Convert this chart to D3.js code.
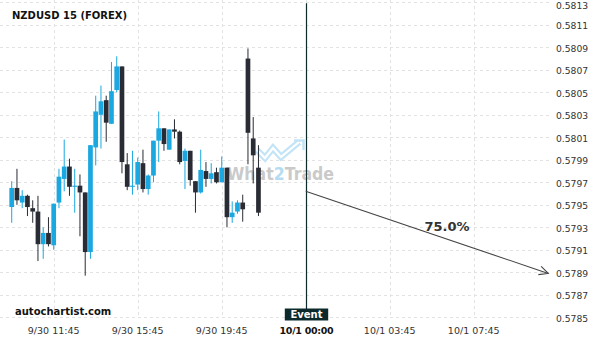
<!DOCTYPE html>
<html>
<head>
<script src="https://d3js.org/d3.v7.min.js" charset="utf-8"></script>
<style>
    body{margin:0;background:#fff;font-family:"DejaVu Sans",sans-serif;}
</style>
</head>
<body>
<div id="chart"></div>
<script>
// 15 minute candles, 9/30 09:45 onward
var opens  = [0.57948,0.57965,0.57952,0.57958,0.57947,0.57944,0.57915,0.57925,0.57914,0.57952,
              0.57973,0.57984,0.57966,0.57967,0.57961,0.57908,0.58001,0.58030,0.58043,0.58022,
              0.58052,0.58073,0.57986,0.57966,0.57968,0.57987,0.57964,0.57976,0.58007,0.58018,
              0.57999,0.58017,0.58015,0.57989,0.57998,0.57971,0.57961,0.57980,0.57973,0.57979,
              0.57970,0.57983,0.57939,0.57944,0.57952,0.58080,0.58009,0.57983]
var highs  = [0.57971,0.57982,0.57963,0.57959,0.57954,0.57958,0.57930,0.57939,0.57951,0.57982,
              0.58008,0.57991,0.57982,0.57977,0.57961,0.58003,0.58047,0.58056,0.58047,0.58077,
              0.58082,0.58073,0.57996,0.57998,0.57992,0.57999,0.57977,0.58007,0.58033,0.58018,
              0.58017,0.58026,0.58016,0.58000,0.57998,0.57971,0.57999,0.57988,0.57987,0.57983,
              0.57993,0.57983,0.57953,0.57954,0.57959,0.58089,0.58028,0.58003]
var lows   = [0.57934,0.57950,0.57947,0.57940,0.57934,0.57900,0.57902,0.57913,0.57910,0.57947,
              0.57962,0.57958,0.57943,0.57922,0.57887,0.57902,0.57985,0.58000,0.58006,0.58022,
              0.58050,0.57978,0.57963,0.57959,0.57963,0.57961,0.57959,0.57970,0.57988,0.57998,
              0.57999,0.58009,0.57986,0.57964,0.57967,0.57943,0.57960,0.57966,0.57969,0.57969,
              0.57970,0.57930,0.57934,0.57942,0.57935,0.57986,0.57969,0.57940]
var closes = [0.57965,0.57954,0.57958,0.57948,0.57944,0.57915,0.57925,0.57915,0.57951,0.57975,
              0.57984,0.57966,0.57967,0.57961,0.57908,0.58003,0.58033,0.58042,0.58023,0.58051,
              0.58073,0.57988,0.57966,0.57967,0.57988,0.57964,0.57976,0.58007,0.58018,0.58004,
              0.58017,0.58015,0.57988,0.57998,0.57972,0.57961,0.57981,0.57973,0.57978,0.57970,
              0.57983,0.57939,0.57943,0.57952,0.57946,0.58014,0.57994,0.57943]

var yTicks = [0.5785,0.5787,0.5789,0.5791,0.5793,0.5795,0.5797,0.5799,0.5801,0.5803,0.5805,0.5807,0.5809,0.5811,0.5813]
var xTickBars = [8,24,40,72,88]
var xTickLabels = ["9/30 11:45","9/30 15:45","9/30 19:45","10/1 03:45","10/1 07:45"]

var eventBar = 56
var eventLabel = "10/1 00:00"
var forecastFrom = 0.57962
var forecastTo = 0.57889
var forecastEndBar = 102.2
var forecastProb = "75.0%"

var up = "#1ba7e0", down = "#2a2c35", gridColor = "#e2e2e2"

var svg = d3.select("#chart").append("svg")
    .attr("width",600).attr("height",340)

var x = d3.scaleLinear().domain([-2.23,102.53]).range([0,550])
var y = d3.scaleLinear().domain([0.5785,0.5813]).range([317.3,2.3])
var bodyW = 4.7

// grid
svg.append("g").selectAll("line").data(yTicks).enter().append("line")
    .attr("x1",0).attr("x2",550)
    .attr("y1",function(d){return Math.round(y(d))+0.5})
    .attr("y2",function(d){return Math.round(y(d))+0.5})
    .attr("stroke",gridColor).attr("stroke-dasharray","3,3")
svg.append("g").selectAll("line").data(xTickBars.concat([eventBar])).enter().append("line")
    .attr("x1",function(d){return Math.round(x(d))+0.5})
    .attr("x2",function(d){return Math.round(x(d))+0.5})
    .attr("y1",0).attr("y2",318)
    .attr("stroke",gridColor).attr("stroke-dasharray","3,3")

// watermark
var wm = svg.append("g")
var logo = "M257,150 L265,158 L273,148 L281,157 L299,142"
wm.append("path").attr("d",logo)
    .attr("fill","none").attr("stroke","#c3e4f6").attr("stroke-width",6.5)
wm.append("path").attr("d",logo)
    .attr("fill","none").attr("stroke","#fff").attr("stroke-width",2.2)
wm.append("path")
    .attr("d","M294,140.5 L303.5,140.5 L303.5,150")
    .attr("fill","none").attr("stroke","#c3e4f6").attr("stroke-width",2.5)
var wt = wm.append("text")
    .attr("x",227).attr("y",180)
    .attr("textLength",107).attr("lengthAdjust","spacingAndGlyphs")
    .attr("font-size",18).attr("font-weight","bold").attr("fill","#cacaca")
wt.append("tspan").text("What")
wt.append("tspan").attr("fill","#b5dcf2").text("2")
wt.append("tspan").text("Trade")

// candles
var bars = d3.range(opens.length)
var cg = svg.append("g")
cg.selectAll(".wick").data(bars).enter().append("rect")
    .attr("class","wick")
    .attr("x",function(i){return x(i)-0.5})
    .attr("width",1)
    .attr("y",function(i){return y(highs[i])})
    .attr("height",function(i){return y(lows[i])-y(highs[i])})
    .attr("fill",function(i){return closes[i]>=opens[i]?up:down})
cg.selectAll(".body").data(bars).enter().append("rect")
    .attr("class","body")
    .attr("x",function(i){return x(i)-bodyW/2})
    .attr("width",bodyW)
    .attr("y",function(i){return y(Math.max(opens[i],closes[i]))})
    .attr("height",function(i){return Math.max(1,Math.abs(y(opens[i])-y(closes[i])))})
    .attr("fill",function(i){return closes[i]>=opens[i]?up:down})

// title + brand
svg.append("text").attr("x",12).attr("y",19)
    .attr("font-size",10).attr("font-weight","bold").attr("fill","#111")
    .text("NZDUSD 15 (FOREX)")
svg.append("text").attr("x",15).attr("y",315)
    .attr("font-size",10).attr("font-weight","bold").attr("fill","#111")
    .text("autochartist.com")

// y axis labels
svg.append("g").selectAll("text").data(yTicks).enter().append("text")
    .attr("x",556).attr("y",function(d){return Math.max(5.5,y(d)+1)})
    .attr("dy","0.35em")
    .attr("font-size",9.2).attr("fill","#333")
    .text(function(d){return d.toFixed(4)})

// x axis labels
svg.append("g").selectAll("text").data(xTickBars).enter().append("text")
    .attr("x",function(d){return x(d)}).attr("y",334)
    .attr("text-anchor","middle")
    .attr("font-size",9.5).attr("fill","#333")
    .text(function(d,i){return xTickLabels[i]})

// event marker
var ex = Math.round(x(eventBar))+0.5
svg.append("line").attr("x1",ex).attr("x2",ex)
    .attr("y1",y(0.5813)+1).attr("y2",309)
    .attr("stroke","#0c2a2c").attr("stroke-width",1.2)
svg.append("rect").attr("x",ex-21.7).attr("y",308.5).attr("width",43.4).attr("height",12)
    .attr("fill","#0c2a2c")
svg.append("text").attr("x",ex).attr("y",318.3).attr("text-anchor","middle")
    .attr("font-size",10).attr("font-weight","bold").attr("fill","#fff")
    .text("Event")
svg.append("text").attr("x",ex).attr("y",334).attr("text-anchor","middle")
    .attr("font-size",9.5).attr("font-weight","bold").attr("fill","#111")
    .attr("letter-spacing",-0.3)
    .text(eventLabel)

// forecast arrow
var ax1 = x(eventBar), ay1 = y(forecastFrom)
var ax2 = x(forecastEndBar), ay2 = y(forecastTo)
svg.append("line").attr("x1",ax1).attr("y1",ay1).attr("x2",ax2).attr("y2",ay2)
    .attr("stroke","#444").attr("stroke-width",1.1)
var ang = Math.atan2(ay2-ay1,ax2-ax1), hl = 10, ha = 0.45
svg.append("path")
    .attr("d","M"+(ax2-hl*Math.cos(ang-ha))+","+(ay2-hl*Math.sin(ang-ha))
        +" L"+ax2+","+ay2
        +" L"+(ax2-hl*Math.cos(ang+ha))+","+(ay2-hl*Math.sin(ang+ha)))
    .attr("fill","none").attr("stroke","#444").attr("stroke-width",1.1)
var lx = x(82.9)
svg.append("text").attr("x",lx).attr("y",ay1+(lx-ax1)/(ax2-ax1)*(ay2-ay1)-8)
    .attr("text-anchor","middle")
    .attr("font-size",13).attr("font-weight","bold").attr("fill","#333")
    .text(forecastProb)
</script>
</body>
</html>
